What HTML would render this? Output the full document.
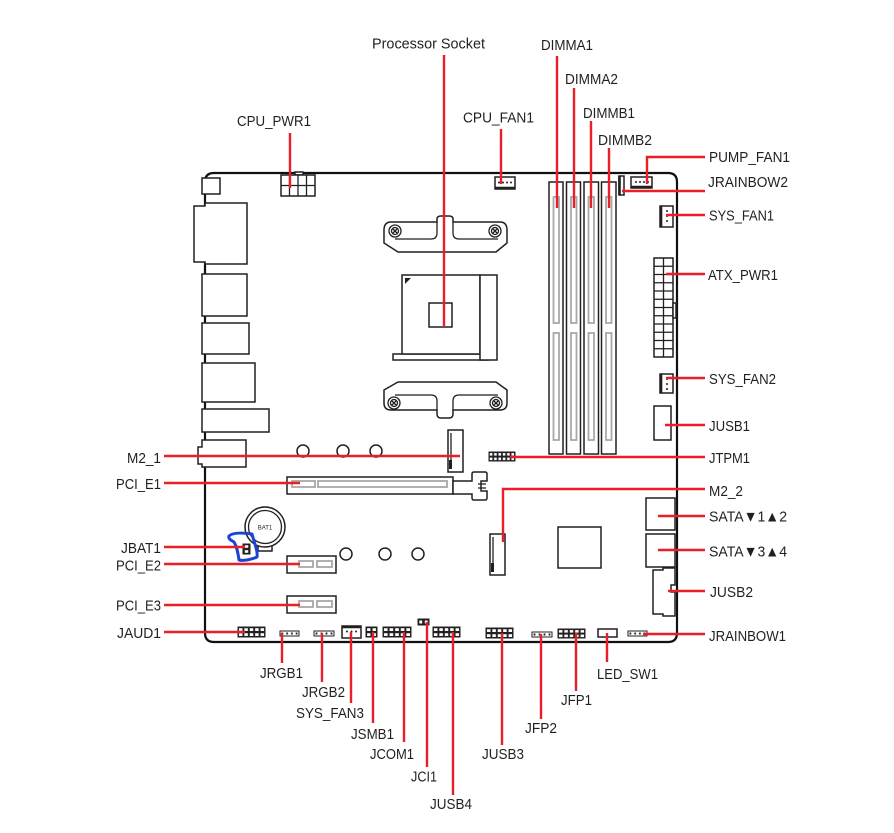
<!DOCTYPE html>
<html><head><meta charset="utf-8"><style>
html,body{margin:0;padding:0;background:#fff;}
svg{display:block;}
text{font-family:"Liberation Sans","DejaVu Sans",sans-serif;font-size:15px;fill:#231f20;}
</style></head><body>
<svg width="894" height="833" viewBox="0 0 894 833" xmlns="http://www.w3.org/2000/svg">
<defs>
<pattern id="h5x2" width="0.2" height="0.5" patternContentUnits="objectBoundingBox"><rect width="0.2" height="0.5" fill="#231f20"/><rect x="0.035" y="0.12" width="0.13" height="0.28" fill="#fff"/></pattern>
<pattern id="h6x2" width="0.1667" height="0.5" patternContentUnits="objectBoundingBox"><rect width="0.1667" height="0.5" fill="#231f20"/><rect x="0.03" y="0.12" width="0.1" height="0.28" fill="#fff"/></pattern>
<pattern id="h2x2" width="0.5" height="0.5" patternContentUnits="objectBoundingBox"><rect width="0.5" height="0.5" fill="#231f20"/><rect x="0.1" y="0.12" width="0.3" height="0.28" fill="#fff"/></pattern>
<pattern id="h4x1" width="0.25" height="1" patternContentUnits="objectBoundingBox"><rect width="0.25" height="1" fill="#fff"/><rect x="0.08" y="0.3" width="0.09" height="0.4" fill="#231f20"/></pattern>
<pattern id="h2x1" width="0.5" height="1" patternContentUnits="objectBoundingBox"><rect width="0.5" height="1" fill="#231f20"/><rect x="0.12" y="0.25" width="0.26" height="0.5" fill="#fff"/></pattern>
<pattern id="h1x2" width="1" height="0.5" patternContentUnits="objectBoundingBox"><rect width="1" height="0.5" fill="#231f20"/><rect x="0.25" y="0.12" width="0.5" height="0.26" fill="#fff"/></pattern>
</defs>

<!-- board outline -->
<path d="M205,632 L205,182 Q205,173 214,173 L668,173 Q677,173 677,182 L677,633 Q677,642 668,642 L214,642 Q205,642 205,633 Z" fill="none" stroke="#111" stroke-width="2.2"/>

<g fill="#fff" stroke="#231f20" stroke-width="1.5">
<!-- left IO -->
<rect x="202" y="178" width="18" height="16"/>
<path d="M205,203 L247,203 L247,264 L205,264 L205,262 L194,262 L194,206 L205,206 Z"/>
<rect x="202" y="274" width="45" height="42"/>
<rect x="202" y="323" width="47" height="31"/>
<rect x="202" y="363" width="53" height="39"/>
<rect x="202" y="409" width="67" height="23"/>
<path d="M202,440 L246,440 L246,467 L202,467 L202,464 L198,464 L198,447 L202,447 Z"/>

<!-- CPU power -->
<rect x="295" y="172" width="8" height="3"/>
<rect x="281" y="175" width="34" height="21"/>

<!-- socket brackets -->
<path d="M384,230 Q384,222 391,222 L437,222 L437,219 Q437,216 441,216 L449,216 Q453,216 453,219 L453,222 L500,222 Q507,222 507,230 L507,243 L496,252 L398,252 L384,243 Z"/>
<path d="M384,390 L398,382 L496,382 L507,390 L507,403 Q507,410 500,410 L453,410 L453,414 Q453,418 449,418 L441,418 Q437,418 437,414 L437,410 L391,410 Q384,410 384,403 Z"/>

<!-- socket -->
<rect x="393" y="354" width="95" height="6"/>
<rect x="402" y="275" width="78" height="79"/>
<rect x="480" y="275" width="17" height="85"/>
<rect x="429" y="303" width="23" height="24"/>

<!-- DIMM slots -->
<rect x="549" y="182" width="14" height="272"/>
<rect x="566.5" y="182" width="14" height="272"/>
<rect x="584" y="182" width="14.5" height="272"/>
<rect x="601.5" y="182" width="14.5" height="272"/>

<!-- right side -->
<rect x="654" y="258" width="19" height="99"/>
<rect x="673" y="303" width="3" height="15"/>
<rect x="654" y="406" width="17" height="34"/>
<rect x="646" y="498" width="29" height="32"/>
<rect x="646" y="534" width="29" height="33"/>
<path d="M653,570 L663,570 L663,568 L675,568 L675,585 L671,585 L671,592 L675,592 L675,616 L663,616 L663,614 L653,614 Z"/>
<rect x="558" y="527" width="43" height="41"/>

<!-- M.2 -->
<rect x="448" y="430" width="15" height="42"/>
<rect x="490" y="534" width="15" height="41"/>

<!-- PCIe -->
<rect x="287" y="477" width="166" height="17"/>
<path d="M453,481 L472,481 L472,474 Q472,472 474,472 L485,472 Q487,472 487,474 L487,481 L481,481 L481,491 L487,491 L487,498 Q487,500 485,500 L474,500 Q472,500 472,498 L472,494 L453,494 Z"/>
<rect x="287" y="556" width="49" height="17"/>
<rect x="287" y="596" width="49" height="17"/>

<!-- battery -->
<rect x="258" y="543" width="14" height="8"/>
<circle cx="265" cy="527" r="20"/>

<!-- fans / misc -->
<rect x="495" y="177" width="20" height="12"/>
<rect x="631" y="177" width="21" height="11"/>
<rect x="660" y="206" width="13" height="21"/>
<rect x="660" y="374" width="13" height="19"/>
<rect x="342" y="626" width="19" height="12"/>
<rect x="598" y="629" width="19" height="8"/>
<rect x="619" y="176" width="5" height="19"/>

<!-- mounting holes -->
<circle cx="303" cy="451" r="6"/><circle cx="343" cy="451" r="6"/><circle cx="376" cy="451" r="6"/>
<circle cx="346" cy="554" r="6"/><circle cx="385" cy="554" r="6"/><circle cx="418" cy="554" r="6"/>
</g>

<!-- detail lines -->
<g fill="none" stroke="#231f20" stroke-width="1.3">
<path d="M281,185.5 H315 M289.5,175 V196 M298,175 V196 M306.5,175 V196"/>
<path d="M395,239 L431,239 Q437,239 437,233 L437,222 M453,222 L453,233 Q453,239 459,239 L498,239"/>
<path d="M395,395 L431,395 Q437,395 437,401 L437,410 M453,410 L453,401 Q453,395 459,395 L498,395"/>
<circle cx="395" cy="231" r="3.5"/><circle cx="495" cy="231" r="3.5"/>
<circle cx="394" cy="403" r="3.5"/><circle cx="496" cy="403" r="3.5"/>
<circle cx="395" cy="231" r="6"/><circle cx="495" cy="231" r="6"/>
<circle cx="394" cy="403" r="6"/><circle cx="496" cy="403" r="6"/>
<path d="M393,229 L397,233 M397,229 L393,233 M493,229 L497,233 M497,229 L493,233 M392,401 L396,405 M396,401 L392,405 M494,401 L498,405 M498,401 L494,405"/>
<path d="M663.5,258 V357 M654,266.25 H673 M654,274.5 H673 M654,282.75 H673 M654,291 H673 M654,299.25 H673 M654,307.5 H673 M654,315.75 H673 M654,324 H673 M654,332.25 H673 M654,340.5 H673 M654,348.75 H673"/>
<path d="M451,433 V469 M493,537 V572"/>
<path d="M478,484 H486 M478,488 H486"/>
<circle cx="265" cy="527" r="16.5"/>
</g>
<path d="M405,278 L411,278 L405,284 Z" fill="#231f20"/>
<path d="M449,460 h3 v9 h-3 Z M491,563 h3 v9 h-3 Z" fill="#231f20"/>
<text x="265" y="529.5" text-anchor="middle" style="font-size:6px">BAT1</text>

<!-- DIMM inner rails -->
<g fill="none" stroke="#a8a8a8" stroke-width="1.8">
<rect x="553.5" y="197" width="5.5" height="126"/><rect x="553.5" y="333" width="5.5" height="107"/>
<rect x="571" y="197" width="5.5" height="126"/><rect x="571" y="333" width="5.5" height="107"/>
<rect x="588.5" y="197" width="5.5" height="126"/><rect x="588.5" y="333" width="5.5" height="107"/>
<rect x="606" y="197" width="5.5" height="126"/><rect x="606" y="333" width="5.5" height="107"/>
<rect x="292" y="481" width="23" height="6"/><rect x="318" y="481" width="129" height="6"/>
<rect x="299" y="561" width="14" height="6"/><rect x="317" y="561" width="15" height="6"/>
<rect x="299" y="601" width="14" height="6"/><rect x="317" y="601" width="15" height="6"/>
</g>

<!-- fan connector thick edges and dots -->
<g stroke="#231f20" stroke-width="2.6">
<path d="M495,188 H515 M631,187 H652 M661,206 V227 M661,374 V393 M342,627 H361 M619.5,176 V195"/>
</g>
<g fill="#231f20">
<circle cx="499" cy="182.5" r="1"/><circle cx="503" cy="182.5" r="1"/><circle cx="507" cy="182.5" r="1"/><circle cx="511" cy="182.5" r="1"/>
<circle cx="636" cy="182" r="1"/><circle cx="640" cy="182" r="1"/><circle cx="644" cy="182" r="1"/><circle cx="648" cy="182" r="1"/>
<circle cx="667" cy="211" r="1"/><circle cx="667" cy="216" r="1"/><circle cx="667" cy="221" r="1"/>
<circle cx="667" cy="379" r="1"/><circle cx="667" cy="384" r="1"/><circle cx="667" cy="389" r="1"/>
<circle cx="347" cy="631.5" r="1"/><circle cx="351.5" cy="631.5" r="1"/><circle cx="356" cy="631.5" r="1"/>
</g>

<!-- headers -->
<g stroke="#231f20" stroke-width="1">
<rect x="238" y="627" width="27" height="10" fill="url(#h5x2)"/>
<rect x="383" y="627" width="28" height="10" fill="url(#h5x2)"/>
<rect x="433" y="627" width="27" height="10" fill="url(#h5x2)"/>
<rect x="486" y="628" width="27" height="10" fill="url(#h5x2)"/>
<rect x="558" y="629" width="27" height="9" fill="url(#h5x2)"/>
<rect x="489" y="452" width="26" height="9" fill="url(#h6x2)"/>
<rect x="366" y="627" width="11" height="10" fill="url(#h2x2)"/>
<rect x="418" y="619" width="11" height="6" fill="url(#h2x1)"/>
<rect x="243" y="544" width="7" height="10" fill="url(#h1x2)"/>
<rect x="280" y="631" width="19" height="5" fill="url(#h4x1)"/>
<rect x="314" y="631" width="20" height="5" fill="url(#h4x1)"/>
<rect x="532" y="632" width="20" height="5" fill="url(#h4x1)"/>
<rect x="628" y="631" width="19" height="5" fill="url(#h4x1)"/>
</g>

<!-- blue highlight -->
<path d="M229,536 C233,532 245,533 252,534 C255,545 258,552 257,557 C250,560 243,561 239,560 C238,553 237,547 234,542 C231,540 228,539 229,536 Z" fill="none" stroke="#1a44d4" stroke-width="3" stroke-linejoin="round"/>

<!-- red leader lines -->
<g fill="none" stroke="#e81f27" stroke-width="2.4">
<path d="M290,133 V188"/>
<path d="M444,55 V327"/>
<path d="M501,129 V184"/>
<path d="M557,56 V208"/>
<path d="M574,88 V208"/>
<path d="M591,121 V208"/>
<path d="M609,148 V208"/>
<path d="M647,184 V157 H705"/>
<path d="M622,191 H705"/>
<path d="M666,215 H705"/>
<path d="M666,274 H705"/>
<path d="M666,378 H705"/>
<path d="M665,425 H705"/>
<path d="M510,457 H705"/>
<path d="M503,542 V489 H705"/>
<path d="M658,516 H705"/>
<path d="M658,550 H705"/>
<path d="M668,591 H705"/>
<path d="M643,634 H705"/>
<path d="M164,456 H460"/>
<path d="M164,483 H300"/>
<path d="M164,547 H245"/>
<path d="M164,564 H300"/>
<path d="M164,605 H300"/>
<path d="M164,632 H245"/>
<path d="M282,633 V663"/>
<path d="M322,633 V682"/>
<path d="M351,632 V703"/>
<path d="M373,632 V723"/>
<path d="M404,632 V742"/>
<path d="M427,622 V767"/>
<path d="M453,632 V795"/>
<path d="M502,633 V745"/>
<path d="M541,634 V719"/>
<path d="M576,633 V691"/>
<path d="M607,633 V662"/>
</g>

<!-- labels -->
<g>
<text x="372" y="48.5" textLength="113" lengthAdjust="spacingAndGlyphs">Processor Socket</text>
<text x="237" y="126" textLength="74" lengthAdjust="spacingAndGlyphs">CPU_PWR1</text>
<text x="463" y="122.5" textLength="71" lengthAdjust="spacingAndGlyphs">CPU_FAN1</text>
<text x="541" y="50" textLength="52" lengthAdjust="spacingAndGlyphs">DIMMA1</text>
<text x="565" y="84" textLength="53" lengthAdjust="spacingAndGlyphs">DIMMA2</text>
<text x="583" y="118" textLength="52" lengthAdjust="spacingAndGlyphs">DIMMB1</text>
<text x="598" y="145" textLength="54" lengthAdjust="spacingAndGlyphs">DIMMB2</text>

<text x="709" y="162" textLength="81" lengthAdjust="spacingAndGlyphs">PUMP_FAN1</text>
<text x="708" y="187" textLength="80" lengthAdjust="spacingAndGlyphs">JRAINBOW2</text>
<text x="709" y="220.5" textLength="65" lengthAdjust="spacingAndGlyphs">SYS_FAN1</text>
<text x="708" y="280" textLength="70" lengthAdjust="spacingAndGlyphs">ATX_PWR1</text>
<text x="709" y="384" textLength="67" lengthAdjust="spacingAndGlyphs">SYS_FAN2</text>
<text x="709" y="431" textLength="41" lengthAdjust="spacingAndGlyphs">JUSB1</text>
<text x="709" y="463" textLength="41" lengthAdjust="spacingAndGlyphs">JTPM1</text>
<text x="709" y="496" textLength="34" lengthAdjust="spacingAndGlyphs">M2_2</text>
<text x="709" y="521.5" textLength="78" lengthAdjust="spacingAndGlyphs">SATA▼1▲2</text>
<text x="709" y="556.5" textLength="78" lengthAdjust="spacingAndGlyphs">SATA▼3▲4</text>
<text x="710" y="597" textLength="43" lengthAdjust="spacingAndGlyphs">JUSB2</text>
<text x="709" y="641" textLength="77" lengthAdjust="spacingAndGlyphs">JRAINBOW1</text>

<text x="127" y="463" textLength="34" lengthAdjust="spacingAndGlyphs">M2_1</text>
<text x="116" y="489" textLength="45" lengthAdjust="spacingAndGlyphs">PCI_E1</text>
<text x="121" y="553" textLength="40" lengthAdjust="spacingAndGlyphs">JBAT1</text>
<text x="116" y="570.5" textLength="45" lengthAdjust="spacingAndGlyphs">PCI_E2</text>
<text x="116" y="610.5" textLength="45" lengthAdjust="spacingAndGlyphs">PCI_E3</text>
<text x="117" y="638" textLength="44" lengthAdjust="spacingAndGlyphs">JAUD1</text>

<text x="260" y="678" textLength="43" lengthAdjust="spacingAndGlyphs">JRGB1</text>
<text x="302" y="697" textLength="43" lengthAdjust="spacingAndGlyphs">JRGB2</text>
<text x="296" y="718" textLength="68" lengthAdjust="spacingAndGlyphs">SYS_FAN3</text>
<text x="351" y="739" textLength="43" lengthAdjust="spacingAndGlyphs">JSMB1</text>
<text x="370" y="759" textLength="44" lengthAdjust="spacingAndGlyphs">JCOM1</text>
<text x="411" y="781.5" textLength="26" lengthAdjust="spacingAndGlyphs">JCI1</text>
<text x="430" y="809" textLength="42" lengthAdjust="spacingAndGlyphs">JUSB4</text>
<text x="482" y="759" textLength="42" lengthAdjust="spacingAndGlyphs">JUSB3</text>
<text x="525" y="733" textLength="32" lengthAdjust="spacingAndGlyphs">JFP2</text>
<text x="561" y="705" textLength="31" lengthAdjust="spacingAndGlyphs">JFP1</text>
<text x="597" y="679" textLength="61" lengthAdjust="spacingAndGlyphs">LED_SW1</text>
</g>
</svg>
</body></html>
